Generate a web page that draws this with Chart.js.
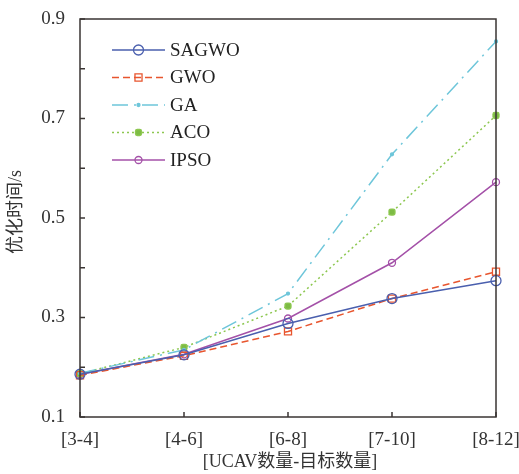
<!DOCTYPE html>
<html>
<head>
<meta charset="utf-8">
<script src="https://cdn.jsdelivr.net/npm/chart.js@4.4.0/dist/chart.umd.min.js"></script>
<style>
  body { margin: 0; background: #fff; }
  canvas { display: block; }
</style>
</head>
<body>
<canvas id="timeChart" width="519" height="474"></canvas>
<script>
// categories and series (optimisation time, s)
const categories = ['[3-4]', '[4-6]', '[6-8]', '[7-10]', '[8-12]'];
const sagwo = [0.186, 0.225, 0.288, 0.338, 0.374];
const gwo   = [0.184, 0.223, 0.272, 0.338, 0.392];
const ga    = [0.188, 0.235, 0.348, 0.628, 0.855];
const aco   = [0.187, 0.240, 0.323, 0.512, 0.706];
const ipso  = [0.186, 0.226, 0.298, 0.410, 0.572];
const yTicks = [0.1, 0.3, 0.5, 0.7, 0.9];

const serif = "'Liberation Serif', 'Times New Roman', 'Noto Sans CJK SC', serif";
const axisColor = '#3a3533';

// frame, inward ticks, axis titles and the line+marker legend
const framePlugin = {
    id: 'frame',
    afterDatasetsDraw(chart) {
        const { ctx, chartArea: a, scales } = chart;
        ctx.save();
        ctx.strokeStyle = axisColor;
        ctx.lineWidth = 1.5;
        ctx.strokeRect(a.left, a.top, a.right - a.left, a.bottom - a.top);

        // y ticks every 0.1
        for (let i = 1; i <= 9; i++) {
            const y = scales.y.getPixelForValue(i / 10);
            ctx.beginPath();
            ctx.moveTo(a.left, y);
            ctx.lineTo(a.left + 5, y);
            ctx.stroke();
        }
        // x ticks
        categories.forEach((c, i) => {
            const x = scales.x.getPixelForValue(i);
            ctx.beginPath();
            ctx.moveTo(x, a.bottom);
            ctx.lineTo(x, a.bottom - 5);
            ctx.stroke();
        });

        // axis titles
        ctx.fillStyle = '#333';
        ctx.font = '18px ' + serif;
        ctx.textAlign = 'center';
        ctx.textBaseline = 'middle';
        ctx.fillText('[UCAV数量-目标数量]', (a.left + a.right) / 2 + 2, 462);
        ctx.translate(16, 212);
        ctx.rotate(-Math.PI / 2);
        ctx.fillText('优化时间/s', 0, 0);
        ctx.restore();

        // legend
        ctx.save();
        chart.data.datasets.forEach((ds, i) => {
            const y = 50 + i * 27.5;
            const x0 = 112, x1 = 165;
            ctx.strokeStyle = ds.borderColor;
            ctx.lineWidth = ds.borderWidth;
            ctx.setLineDash(ds.borderDash || []);
            ctx.beginPath();
            ctx.moveTo(x0, y);
            ctx.lineTo(x1, y);
            ctx.stroke();
            ctx.setLineDash([]);
            ctx.strokeStyle = ds.pointBorderColor;
            ctx.fillStyle = ds.pointBackgroundColor;
            ctx.lineWidth = ds.pointBorderWidth;
            Chart.helpers.drawPoint(ctx, {
                pointStyle: ds.pointStyle,
                radius: ds.pointRadius,
                borderWidth: ds.pointBorderWidth,
                rotation: 0
            }, (x0 + x1) / 2, y);
            ctx.fillStyle = '#222';
            ctx.font = '19px ' + serif;
            ctx.textAlign = 'left';
            ctx.textBaseline = 'middle';
            ctx.fillText(ds.label, 170, y + 1);
        });
        ctx.restore();
    }
};

function series(label, data, color, opts) {
    return Object.assign({
        label: label,
        data: data,
        borderColor: color,
        backgroundColor: 'rgba(255,255,255,0)',
        pointBorderColor: color,
        pointBackgroundColor: 'rgba(255,255,255,0)',
        borderWidth: 1.5,
        pointBorderWidth: 1.3,
        tension: 0,
        fill: false
    }, opts);
}

new Chart(document.getElementById('timeChart').getContext('2d'), {
    type: 'line',
    data: {
        labels: categories,
        datasets: [
            series('SAGWO', sagwo, '#4a5fae', { pointStyle: 'circle', pointRadius: 5 }),
            series('GWO', gwo, '#e8552e', { pointStyle: 'rect', pointRadius: 5, borderDash: [7, 4] }),
            series('GA', ga, '#6ec6da', { pointStyle: 'circle', pointRadius: 1.5, pointBackgroundColor: '#6ec6da', borderDash: [16, 6, 2, 6] }),
            series('ACO', aco, '#8dc750', { pointStyle: 'rectRounded', pointRadius: 3.5, pointBackgroundColor: '#7dbb44', borderDash: [2, 3] }),
            series('IPSO', ipso, '#a451a8', { pointStyle: 'circle', pointRadius: 3.5 })
        ]
    },
    options: {
        responsive: false,
        animation: false,
        events: [],
        layout: { padding: { top: 19, right: 23, left: 0, bottom: 0 } },
        plugins: {
            legend: { display: false },
            tooltip: { enabled: false }
        },
        scales: {
            x: {
                offset: false,
                grid: { display: false },
                border: { display: false },
                ticks: {
                    color: '#333',
                    padding: 4,
                    maxRotation: 0,
                    font: { family: serif, size: 19 }
                },
                afterFit: s => { s.height = 57; s.paddingLeft = 0; s.paddingRight = 0; }
            },
            y: {
                min: 0.1,
                max: 0.9,
                grid: { display: false },
                border: { display: false },
                afterBuildTicks: s => { s.ticks = yTicks.map(v => ({ value: v })); },
                ticks: {
                    color: '#333',
                    padding: 7,
                    font: { family: serif, size: 19 },
                    callback: v => v.toFixed(1)
                },
                afterFit: s => { s.width = 80; }
            }
        }
    },
    plugins: [framePlugin]
});
</script>
</body>
</html>
